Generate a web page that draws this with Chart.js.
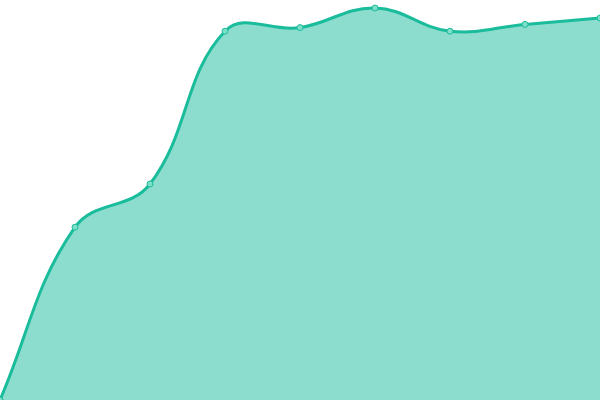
<!DOCTYPE html>
<html>
<head>
<meta charset="utf-8">
<script src="https://cdn.jsdelivr.net/npm/chart.js@4/dist/chart.umd.min.js"></script>
<style>
  html, body { margin: 0; padding: 0; background: #fff; overflow: hidden; }
  #wrap { width: 600px; height: 400px; }
</style>
</head>
<body>
<div id="wrap"><canvas id="chart"></canvas></div>
<script>
// Data (y axis 0..100, hidden)
const labels = ['1', '2', '3', '4', '5', '6', '7', '8', '9'];
const values = [0, 43.2, 54, 92.2, 93.1, 98, 92.2, 93.9, 95.5];
const yMin = 0;
const yMax = 100;

new Chart(document.getElementById('chart'), {
  type: 'line',
  data: {
    labels: labels,
    datasets: [{
      data: values,
      fill: true,
      backgroundColor: 'rgba(26, 188, 156, 0.5)',
      borderColor: '#1abc9c',
      borderWidth: 3,
      tension: 0.4,
      pointRadius: 3,
      pointBackgroundColor: '#7edfc9',
      pointBorderColor: '#1abc9c',
      pointBorderWidth: 1
    }]
  },
  options: {
    responsive: true,
    maintainAspectRatio: false,
    animation: false,
    layout: { padding: 0, autoPadding: false },
    plugins: {
      legend: { display: false },
      tooltip: { enabled: false }
    },
    scales: {
      x: { display: false, offset: false },
      y: { display: false, min: yMin, max: yMax }
    }
  }
});
</script>
</body>
</html>
